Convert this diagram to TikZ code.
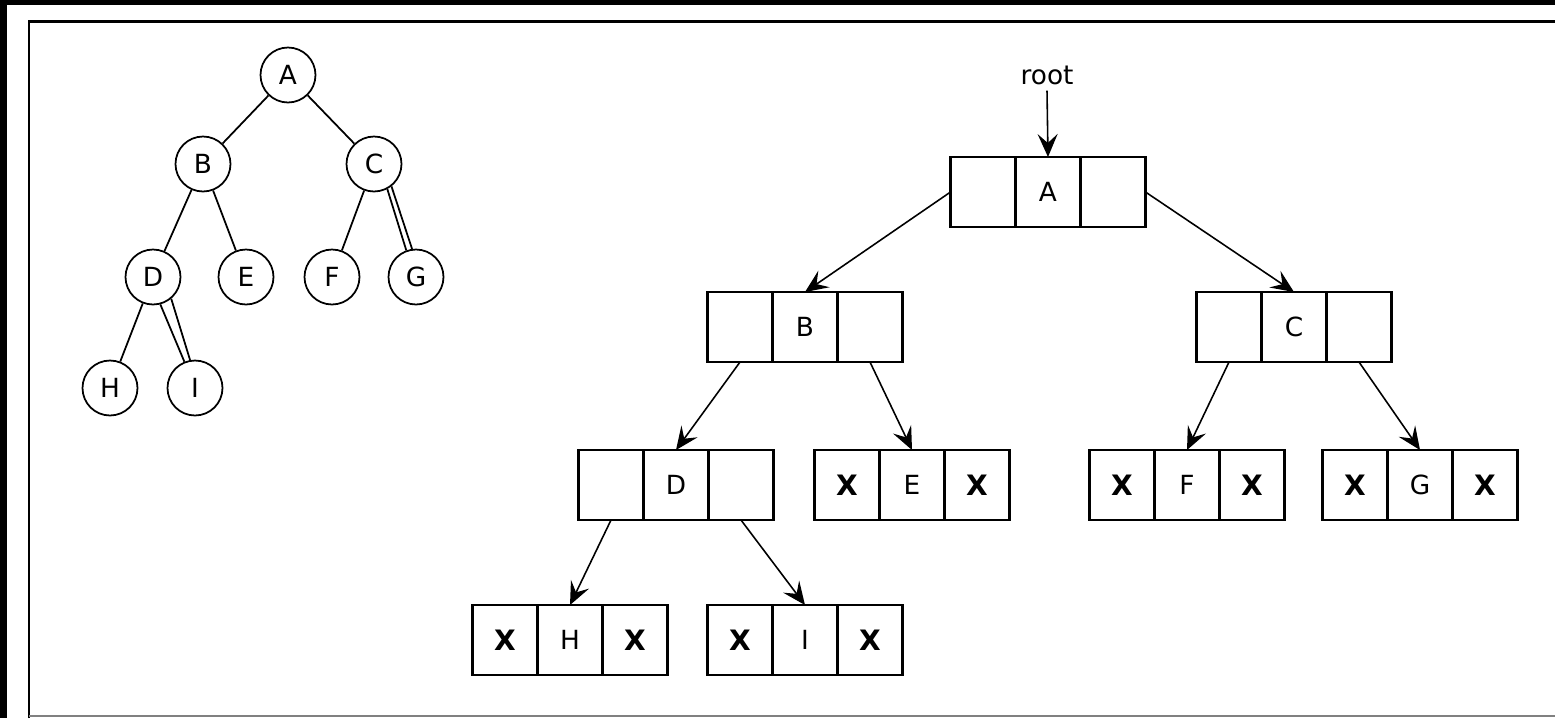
\documentclass[tikz,border=0pt]{standalone}
\usepackage{fontspec}
\setmainfont{DejaVu Sans}
\usetikzlibrary{arrows.meta,positioning}
\tikzset{
  cell/.style={
    draw,
    line width=1.3pt,
    minimum width=1.3cm,
    minimum height=1.4cm,
    inner sep=0pt,
    outer sep=0pt
  },
  vertex/.style={
    shape=circle,
    draw,
    line width=1pt,
    minimum size=1.1cm,
    inner sep=0pt
  },
  edge/.style={
    line width=1pt
  },
  link/.style={
    line width=0.9pt,
    -{Stealth[length=4.6mm,width=4mm,inset=1.8mm]}
  },
  every picture/.style={
    x=0.02cm, y=-0.02cm,
    font=\fontsize{15}{18}\selectfont
  }
}
% one list node: left link, data, right link
\newcommand{\listnode}[3]{%
  \node[cell] (#1) at (#2) {#1};
  \node[cell, anchor=east] (#1l) at (#1.west) {#3};
  \node[cell, anchor=west] (#1r) at (#1.east) {#3};
}
\newcommand{\nil}{\textbf{\fontsize{16}{18}\selectfont X}}
\begin{document}
\begin{tikzpicture}
  \useasboundingbox (0,0) rectangle (1555,718);
  \fill[white] (0,0) rectangle (1555,718);
  % frame
  \fill[black] (0,0) rectangle (1555,5);
  \fill[black] (0,0) rectangle (7,718);
  \draw[line width=1.7pt] (29,718) |- (1555,21);
  \draw[gray, line width=0.6pt] (29,716) -- (1555,716);
  %
  % the tree
  \node[vertex] (vA) at (288,75) {A};
  \node[vertex] (vB) at (203,164) {B};
  \node[vertex] (vC) at (374,164) {C};
  \node[vertex] (vD) at (153,277) {D};
  \node[vertex] (vE) at (246,277) {E};
  \node[vertex] (vF) at (332,277) {F};
  \node[vertex] (vG) at (416,277) {G};
  \node[vertex] (vH) at (110,388) {H};
  \node[vertex] (vI) at (195,388) {I};
  \draw[edge] (vA) -- (vB);
  \draw[edge] (vA) -- (vC);
  \draw[edge] (vB) -- (vD);
  \draw[edge] (vB) -- (vE);
  \draw[edge] (vC) -- (vF);
  \draw[edge] (vC.-62) -- (vG.110);
  \draw[edge] (vC.-52) -- (vG.98);
  \draw[edge] (vD) -- (vH);
  \draw[edge] (vD.-75) -- (vI.112);
  \draw[edge] (vD.-50) -- (vI.100);
  %
  % the linked representation
  \node (root) at (1047,75) {root};
  \listnode{A}{1048,192}{}
  \listnode{B}{805,327}{}
  \listnode{C}{1294,327}{}
  \listnode{D}{676,485}{}
  \listnode{E}{912,485}{\nil}
  \listnode{F}{1187,485}{\nil}
  \listnode{G}{1420,485}{\nil}
  \listnode{H}{570,640}{\nil}
  \listnode{I}{805,640}{\nil}
  %
  \draw[link] (root.south) -- (A.north);
  \draw[link] (Al.west) -- (B.north);
  \draw[link] (Ar.east) -- (C.north);
  \draw[link] (Bl.south) -- (D.north);
  \draw[link] (Br.south) -- (E.north);
  \draw[link] (Cl.south) -- (F.north);
  \draw[link] (Cr.south) -- (G.north);
  \draw[link] (Dl.south) -- (H.north);
  \draw[link] (Dr.south) -- (I.north);
\end{tikzpicture}
\end{document}
